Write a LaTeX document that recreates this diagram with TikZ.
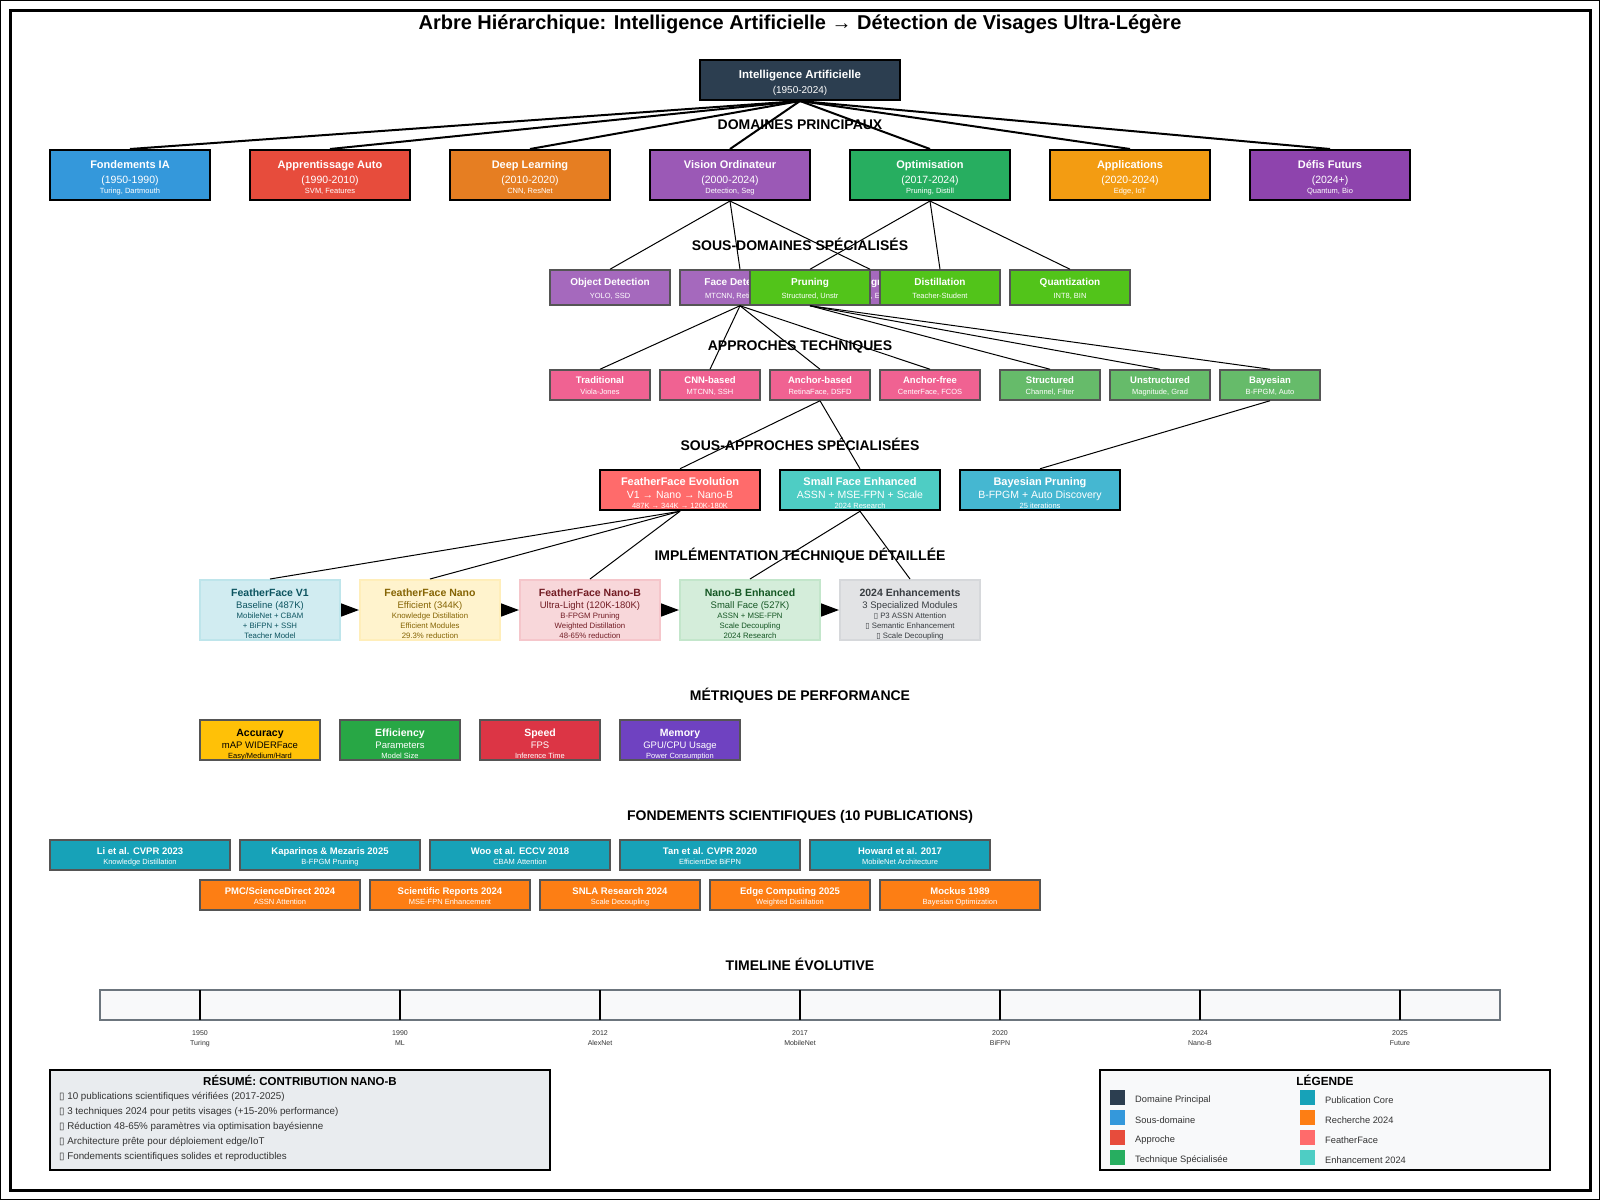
\documentclass[tikz,border=0pt]{standalone}
\usepackage{fontspec}
\setmainfont{Liberation Sans}
\newfontfamily\symf{DejaVu Sans}
\usetikzlibrary{arrows.meta}
\newcommand\fsz[1]{\fontsize{#1}{#1}\selectfont}
\newcommand\fbz[1]{\fontsize{#1}{#1}\selectfont\bfseries}
\newcommand\tofu{{\symf\char"25AF}}
% colours
\definecolor{croot}{HTML}{2C3E50}
\definecolor{cfond}{HTML}{3498DB}
\definecolor{cappr}{HTML}{E74C3C}
\definecolor{cdeep}{HTML}{E67E22}
\definecolor{cvis}{HTML}{9B59B6}
\definecolor{copt}{HTML}{27AE60}
\definecolor{capp}{HTML}{F39C12}
\definecolor{cdefi}{HTML}{8E44AD}
\definecolor{cpurp}{HTML}{A569BD}
\definecolor{cgreen}{HTML}{52C41A}
\definecolor{cpink}{HTML}{F06292}
\definecolor{cgreen2}{HTML}{66BB6A}
\definecolor{cff}{HTML}{FF6B6B}
\definecolor{csf}{HTML}{4ECDC4}
\definecolor{cbp}{HTML}{45B7D1}
\definecolor{v1f}{HTML}{D1ECF1}\definecolor{v1d}{HTML}{BEE5EB}\definecolor{v1t}{HTML}{0C5460}
\definecolor{nnf}{HTML}{FFF3CD}\definecolor{nnd}{HTML}{FFEEBA}\definecolor{nnt}{HTML}{856404}
\definecolor{nbf}{HTML}{F8D7DA}\definecolor{nbd}{HTML}{F5C6CB}\definecolor{nbt}{HTML}{721C24}
\definecolor{enf}{HTML}{D4EDDA}\definecolor{end}{HTML}{C3E6CB}\definecolor{ent}{HTML}{155724}
\definecolor{e4f}{HTML}{E2E3E5}\definecolor{e4d}{HTML}{D6D8DB}\definecolor{e4t}{HTML}{383D41}
\definecolor{cacc}{HTML}{FFC107}
\definecolor{ceff}{HTML}{28A745}
\definecolor{cspd}{HTML}{DC3545}
\definecolor{cmem}{HTML}{6F42C1}
\definecolor{cpub}{HTML}{17A2B8}
\definecolor{cres}{HTML}{FD7E14}
\definecolor{cbar}{HTML}{F8F9FA}
\definecolor{cbard}{HTML}{6C757D}
\definecolor{csum}{HTML}{E9ECEF}
\definecolor{ctxt}{HTML}{333333}
\definecolor{cbord}{HTML}{555555}

\newcommand\domnode[6]{%
 \node[domb, fill=#3] (#1) at (#2,175) {};
 \node[T] (#1-a) at (#2,166.2) {\fbz{11}#4};
 \node[T] (#1-b) at (#2,181) {\fsz{10.5}#5};
 \node[T] (#1-c) at (#2,191) {\fsz{7.5}#6};}
\newcommand\subnode[5]{%
 \node[subb, fill=#3] (#1) at (#2,287.5) {};
 \node[T] (#1-a) at (#2,283) {\fbz{10}#4};
 \node[T] (#1-b) at (#2,296.2) {\fsz{7.5}#5};}
\newcommand\appnode[5]{%
 \node[appb, fill=#3] (#1) at (#2,385) {};
 \node[T] (#1-a) at (#2,381) {\fbz{9.5}#4};
 \node[T] (#1-b) at (#2,392) {\fsz{7.5}#5};}
\newcommand\sapnode[6]{%
 \node[sapb, fill=#3] (#1) at (#2,490) {};
 \node[T] (#1-a) at (#2,483.2) {\fbz{11}#4};
 \node[T] (#1-b) at (#2,495.4) {\fsz{10.5}#5};
 \node[T] (#1-c) at (#2,506.2) {\fsz{7.5}#6};}
\newcommand\impnode[8]{%
 \node[impb, fill=#3f, draw=#3d] (#1) at (#2,610) {};
 \node[T, text=#3t] (#1-a) at (#2,593.4) {\fbz{10.5}#4};
 \node[T, text=#3t] (#1-b) at (#2,606) {\fsz{9.5}#5};
 \node[T, text=#3t] (#1-c) at (#2,615.9) {\fsz{7.8}#6};
 \node[T, text=#3t] (#1-d) at (#2,625.9) {\fsz{7.8}#7};
 \node[T, text=#3t] (#1-e) at (#2,635.9) {\fsz{7.8}#8};}
\newcommand\metnode[7]{%
 \node[metb, fill=#3] (#1) at (#2,740) {};
 \node[T, text=#4] (#1-a) at (#2,733.4) {\fbz{10.5}#5};
 \node[T, text=#4] (#1-b) at (#2,746) {\fsz{9.5}#6};
 \node[T, text=#4] (#1-c) at (#2,755.8) {\fsz{7.5}#7};}
\newcommand\pubnode[7]{%
 \node[pubb, fill=#5, minimum width=#4pt] (#1) at (#2,#3) {};
 \node[T] (#1-a) at (#2,#3-3.6) {\fbz{9.5}#6};
 \node[T] (#1-b) at (#2,#3+7.1) {\fsz{7.5}#7};}

\begin{document}
\begin{tikzpicture}[x=1pt,y=-1pt,
  T/.style={inner sep=0pt, anchor=mid, text=white},
  domb/.style={draw=black, line width=2pt, minimum width=160pt, minimum height=50pt, inner sep=0pt},
  subb/.style={draw=cbord, line width=1.5pt, minimum width=120pt, minimum height=35pt, inner sep=0pt},
  appb/.style={draw=cbord, line width=1.5pt, minimum width=100pt, minimum height=30pt, inner sep=0pt},
  sapb/.style={draw=black, line width=2.5pt, minimum width=160pt, minimum height=40pt, inner sep=0pt},
  impb/.style={line width=2pt, minimum width=140pt, minimum height=60pt, inner sep=0pt},
  metb/.style={draw=cbord, line width=1.5pt, minimum width=120pt, minimum height=40pt, inner sep=0pt},
  pubb/.style={draw=cbord, line width=1.5pt, minimum height=30pt, inner sep=0pt},
  sec/.style={inner sep=0pt, anchor=mid, font=\fbz{14}, text=black},
  edge/.style={draw=black, line width=1pt},
  redge/.style={draw=black, line width=2pt},
  flow/.style={draw=black, line width=1.5pt, -{Triangle[length=18pt,width=13pt]}},
  tlab/.style={inner sep=0pt, anchor=mid, font=\fsz{7}, text=ctxt},
  item/.style={inner sep=0pt, anchor=west, font=\fsz{9.8}, text=ctxt},
  legl/.style={inner sep=0pt, anchor=west, font=\fsz{9.3}, text=ctxt},
  sw/.style={minimum width=15pt, minimum height=15pt, inner sep=0pt},
]
\useasboundingbox (0,0) rectangle (1600,1200);
\fill[white] (0,0) rectangle (1600,1200);
\draw[line width=1pt] (0.5,0.5) rectangle (1599.5,1199.5);
\draw[line width=3pt] (10,10) rectangle (1590,1190);

% title
\node[inner sep=0pt, anchor=mid, font=\fbz{20}] (title) at (800,27) {Arbre Hiérarchique: Intelligence Artificielle → Détection de Visages Ultra-Légère};

% section labels
\node[sec] (secA) at (800,127.2) {DOMAINES PRINCIPAUX};
\node[sec] (secB) at (800,247.7) {SOUS-DOMAINES SPÉCIALISÉS};
\node[sec] (secC) at (800,347.7) {APPROCHES TECHNIQUES};
\node[sec] (secD) at (800,447.7) {SOUS-APPROCHES SPÉCIALISÉES};
\node[sec] (secE) at (800,557.7) {IMPLÉMENTATION TECHNIQUE DÉTAILLÉE};
\node[sec] (secF) at (800,697.7) {MÉTRIQUES DE PERFORMANCE};
\node[sec] (secG) at (800,817.7) {FONDEMENTS SCIENTIFIQUES (10 PUBLICATIONS)};
\node[sec] (secH) at (800,967.7) {TIMELINE ÉVOLUTIVE};

% root
\node[domb, fill=croot, minimum width=200pt, minimum height=40pt] (root) at (800,80) {};
\node[T] (root-a) at (800,75.8) {\fbz{11.5}Intelligence Artificielle};
\node[T] (root-b) at (800,91) {\fsz{10}(1950-2024)};

% domains
\domnode{fond}{130}{cfond}{Fondements IA}{(1950-1990)}{Turing, Dartmouth}
\domnode{appr}{330}{cappr}{Apprentissage Auto}{(1990-2010)}{SVM, Features}
\domnode{deep}{530}{cdeep}{Deep Learning}{(2010-2020)}{CNN, ResNet}
\domnode{vis}{730}{cvis}{Vision Ordinateur}{(2000-2024)}{Detection, Seg}
\domnode{opt}{930}{copt}{Optimisation}{(2017-2024)}{Pruning, Distill}
\domnode{app}{1130}{capp}{Applications}{(2020-2024)}{Edge, IoT}
\domnode{defi}{1330}{cdefi}{Défis Futurs}{(2024+)}{Quantum, Bio}
\foreach \n in {fond,appr,deep,vis,opt,app,defi}
  \draw[redge] (root.south) -- (\n.north);

% sub-domains
\subnode{objdet}{610}{cpurp}{Object Detection}{YOLO, SSD}
\subnode{facedet}{740}{cpurp}{Face Detection}{MTCNN, RetinaFace}
\subnode{facealign}{870}{cpurp}{Face Alignment}{Keypoint, Embed}
\subnode{prun}{810}{cgreen}{Pruning}{Structured, Unstr}
\subnode{dist}{940}{cgreen}{Distillation}{Teacher-Student}
\subnode{quant}{1070}{cgreen}{Quantization}{INT8, BIN}
\foreach \n in {objdet,facedet,facealign}
  \draw[edge] (vis.south) -- (\n.north);
\foreach \n in {prun,dist,quant}
  \draw[edge] (opt.south) -- (\n.north);

% approaches
\appnode{trad}{600}{cpink}{Traditional}{Viola-Jones}
\appnode{cnn}{710}{cpink}{CNN-based}{MTCNN, SSH}
\appnode{anch}{820}{cpink}{Anchor-based}{RetinaFace, DSFD}
\appnode{afree}{930}{cpink}{Anchor-free}{CenterFace, FCOS}
\appnode{struct}{1050}{cgreen2}{Structured}{Channel, Filter}
\appnode{unstr}{1160}{cgreen2}{Unstructured}{Magnitude, Grad}
\appnode{bayes}{1270}{cgreen2}{Bayesian}{B-FPGM, Auto}
\foreach \n in {trad,cnn,anch,afree}
  \draw[edge] (facedet.south) -- (\n.north);
\foreach \n in {struct,unstr,bayes}
  \draw[edge] (prun.south) -- (\n.north);

% sub-approaches
\sapnode{ffe}{680}{cff}{FeatherFace Evolution}{V1 → Nano → Nano-B}{487K → 344K → 120K-180K}
\sapnode{sfe}{860}{csf}{Small Face Enhanced}{ASSN + MSE-FPN + Scale}{2024 Research}
\sapnode{bp}{1040}{cbp}{Bayesian Pruning}{B-FPGM + Auto Discovery}{25 iterations}
\draw[edge] (anch.south) -- (ffe.north);
\draw[edge] (anch.south) -- (sfe.north);
\draw[edge] (bayes.south) -- (bp.north);

% implementation
\impnode{v1}{270}{v1}{FeatherFace V1}{Baseline (487K)}{MobileNet + CBAM}{+ BiFPN + SSH}{Teacher Model}
\impnode{nano}{430}{nn}{FeatherFace Nano}{Efficient (344K)}{Knowledge Distillation}{Efficient Modules}{29.3\% reduction}
\impnode{nanob}{590}{nb}{FeatherFace Nano-B}{Ultra-Light (120K-180K)}{B-FPGM Pruning}{Weighted Distillation}{48-65\% reduction}
\impnode{enh}{750}{en}{Nano-B Enhanced}{Small Face (527K)}{ASSN + MSE-FPN}{Scale Decoupling}{2024 Research}
\impnode{e24}{910}{e4}{2024 Enhancements}{3 Specialized Modules}{\tofu\ P3 ASSN Attention}{\tofu\ Semantic Enhancement}{\tofu\ Scale Decoupling}
\foreach \n in {v1,nano,nanob}
  \draw[edge] (ffe.south) -- (\n.north);
\foreach \n in {enh,e24}
  \draw[edge] (sfe.south) -- (\n.north);
\draw[flow] (v1.east) -- (nano.west);
\draw[flow] (nano.east) -- (nanob.west);
\draw[flow] (nanob.east) -- (enh.west);
\draw[flow] (enh.east) -- (e24.west);

% metrics
\metnode{acc}{260}{cacc}{black}{Accuracy}{mAP WIDERFace}{Easy/Medium/Hard}
\metnode{eff}{400}{ceff}{white}{Efficiency}{Parameters}{Model Size}
\metnode{spd}{540}{cspd}{white}{Speed}{FPS}{Inference Time}
\metnode{mem}{680}{cmem}{white}{Memory}{GPU/CPU Usage}{Power Consumption}

% publications
\pubnode{p1}{140}{855}{180}{cpub}{Li et al. CVPR 2023}{Knowledge Distillation}
\pubnode{p2}{330}{855}{180}{cpub}{Kaparinos \& Mezaris 2025}{B-FPGM Pruning}
\pubnode{p3}{520}{855}{180}{cpub}{Woo et al. ECCV 2018}{CBAM Attention}
\pubnode{p4}{710}{855}{180}{cpub}{Tan et al. CVPR 2020}{EfficientDet BiFPN}
\pubnode{p5}{900}{855}{180}{cpub}{Howard et al. 2017}{MobileNet Architecture}
\pubnode{r1}{280}{895}{160}{cres}{PMC/ScienceDirect 2024}{ASSN Attention}
\pubnode{r2}{450}{895}{160}{cres}{Scientific Reports 2024}{MSE-FPN Enhancement}
\pubnode{r3}{620}{895}{160}{cres}{SNLA Research 2024}{Scale Decoupling}
\pubnode{r4}{790}{895}{160}{cres}{Edge Computing 2025}{Weighted Distillation}
\pubnode{r5}{960}{895}{160}{cres}{Mockus 1989}{Bayesian Optimization}

% timeline
\node[fill=cbar, draw=cbard, line width=2pt, minimum width=1400pt, minimum height=30pt, inner sep=0pt] (tl) at (800,1005) {};
\foreach \x/\yr/\nm [count=\i] in {200/1950/Turing,400/1990/ML,600/2012/AlexNet,800/2017/MobileNet,1000/2020/BiFPN,1200/2024/Nano-B,1400/2025/Future}{
  \draw[line width=2pt] (\x,990) -- (\x,1020);
  \node[tlab] (ty\i) at (\x,1032.5) {\yr};
  \node[tlab] (tn\i) at (\x,1043) {\nm};
}

% summary
\node[fill=csum, draw=black, line width=2pt, minimum width=500pt, minimum height=100pt, inner sep=0pt] (sum) at (300,1120) {};
\node[inner sep=0pt, anchor=mid, font=\fbz{11.5}] (sum-t) at (300,1083) {RÉSUMÉ: CONTRIBUTION NANO-B};
\node[item] (s1) at (59,1097.3) {\tofu\ 10 publications scientifiques vérifiées (2017-2025)};
\node[item] (s2) at (59,1112.3) {\tofu\ 3 techniques 2024 pour petits visages (+15-20\% performance)};
\node[item] (s3) at (59,1127.3) {\tofu\ Réduction 48-65\% paramètres via optimisation bayésienne};
\node[item] (s4) at (59,1142.3) {\tofu\ Architecture prête pour déploiement edge/IoT};
\node[item] (s5) at (59,1157.3) {\tofu\ Fondements scientifiques solides et reproductibles};

% legend
\node[fill=cbar, draw=black, line width=2pt, minimum width=450pt, minimum height=100pt, inner sep=0pt] (leg) at (1325,1120) {};
\node[inner sep=0pt, anchor=mid, font=\fbz{11.8}] (leg-t) at (1325,1082.5) {LÉGENDE};
\foreach \c/\t [count=\i] in {croot/Domaine Principal,cfond/Sous-domaine,cappr/Approche,copt/Technique Spécialisée}{
  \node[sw, fill=\c] (lsa\i) at (1117.5,1077.5+20*\i) {};
  \node[legl] (lla\i) at (1135,1080+20*\i) {\t};
}
\foreach \c/\t [count=\i] in {cpub/Publication Core,cres/Recherche 2024,cff/FeatherFace,csf/Enhancement 2024}{
  \node[sw, fill=\c] (lsb\i) at (1307.5,1077.5+20*\i) {};
  \node[legl] (llb\i) at (1325,1080+20*\i) {\t};
}
\end{tikzpicture}
\end{document}
